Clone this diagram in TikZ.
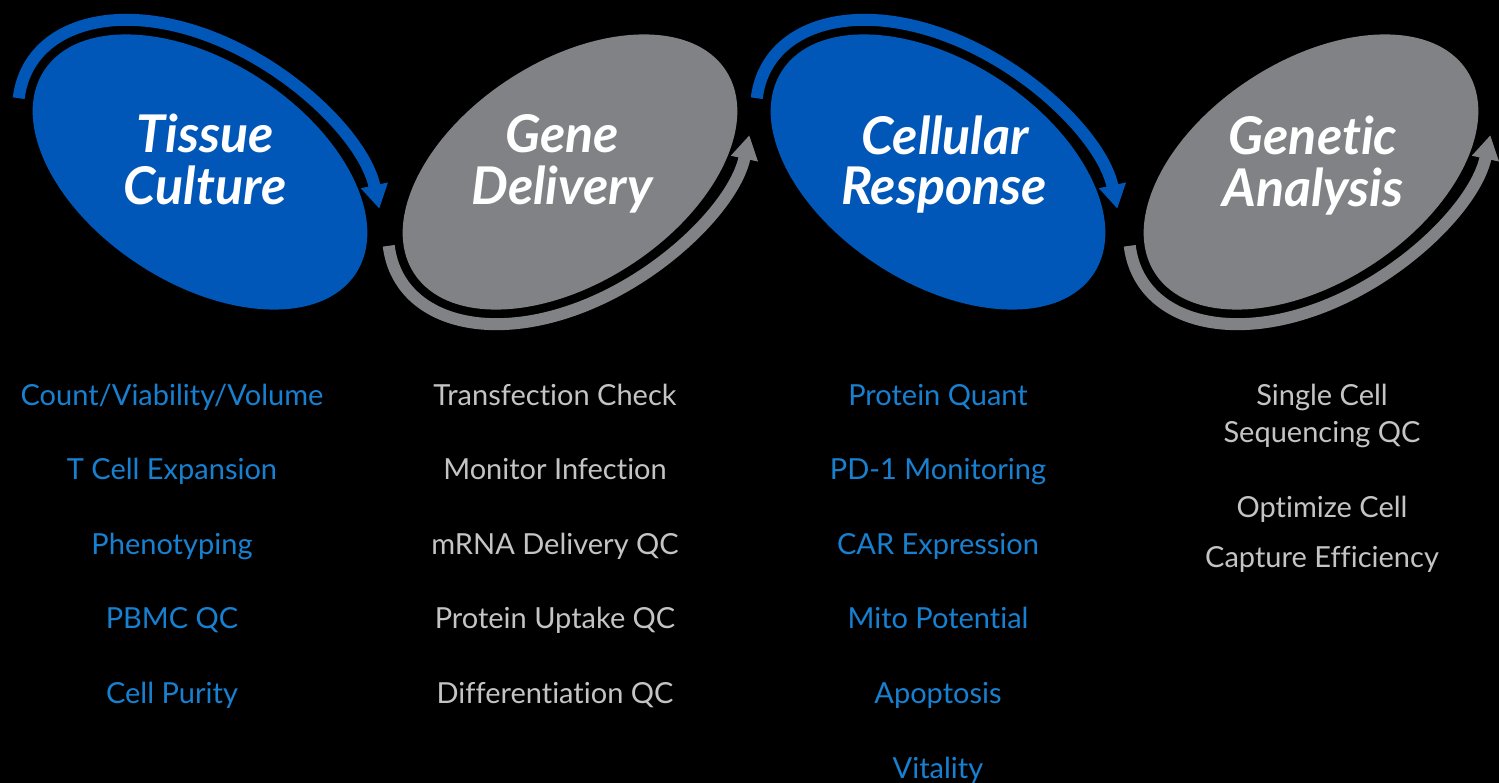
\documentclass[tikz,border=0pt]{standalone}
\usepackage{fontspec}
\setmainfont{Lato}[Ligatures={NoCommon}]
\usetikzlibrary{shapes.geometric,arrows.meta}
\definecolor{tblue}{RGB}{0,87,184}
\definecolor{tgray}{RGB}{128,130,133}
\definecolor{lblue}{RGB}{24,128,208}
\definecolor{lgray}{RGB}{196,196,196}
\tikzset{
  stage/.style={ellipse, inner sep=0pt, minimum width=372pt, minimum height=222pt},
  stagetitle/.style={text=white, anchor=base, inner sep=0pt, font=\fontsize{52}{52}\selectfont\bfseries\itshape},
  listitem/.style={anchor=base, inner sep=0pt, font=\fontsize{29}{29}\selectfont},
  ring/.style={line width=12pt, -{Triangle[width=26pt,length=24pt]}},
}
\begin{document}
\begin{tikzpicture}[x=1pt,y=1pt]
  \fill[black] (0,0) rectangle (1499,-783);
  \useasboundingbox (0,0) rectangle (1499,-783);
  % stages
  \node[stage, fill=tblue, rotate=-33] (tc) at (200,-172) {};
  \node[stage, fill=tgray, rotate=33] (gd) at (570,-172) {};
  \node[stage, fill=tblue, rotate=-33] (cr) at (938,-172) {};
  \node[stage, fill=tgray, rotate=33] (ga) at (1311,-172) {};
  % rings round the stages
  \draw[ring, tblue, shift={(tc.center)}, rotate=-33] (197:201pt and 126pt) arc[start angle=197, end angle=32, x radius=201pt, y radius=126pt];
  \draw[ring, tgray, shift={(gd.center)}, rotate=33] (163:201pt and 126pt) arc[start angle=163, end angle=328, x radius=201pt, y radius=126pt];
  \draw[ring, tblue, shift={(cr.center)}, rotate=-33] (197:201pt and 126pt) arc[start angle=197, end angle=32, x radius=201pt, y radius=126pt];
  \draw[ring, tgray, shift={(ga.center)}, rotate=33] (163:201pt and 126pt) arc[start angle=163, end angle=328, x radius=201pt, y radius=126pt];
  % titles
  \node[stagetitle] (tc1) at (205,-153) {Tissue};
  \node[stagetitle] (tc2) at (205,-205) {Culture};
  \node[stagetitle] (gd1) at (562,-153) {Gene};
  \node[stagetitle] (gd2) at (562,-205) {Delivery};
  \node[stagetitle] (cr1) at (945,-155) {Cellular};
  \node[stagetitle] (cr2) at (944,-205) {Response};
  \node[stagetitle] (ga1) at (1313,-155) {Genetic};
  \node[stagetitle] (ga2) at (1313,-207) {Analysis};
  % tissue culture
  \node[listitem, lblue] (tc-a) at (172,-405) {Count/Viability/Volume};
  \node[listitem, lblue] (tc-b) at (172,-479.5) {T Cell Expansion};
  \node[listitem, lblue] (tc-c) at (172,-554) {Phenotyping};
  \node[listitem, lblue] (tc-d) at (172,-628.5) {PBMC QC};
  \node[listitem, lblue] (tc-e) at (172,-703) {Cell Purity};
  % gene delivery
  \node[listitem, lgray] (gd-a) at (555,-405) {Transfection Check};
  \node[listitem, lgray] (gd-b) at (555,-479.5) {Monitor Infection};
  \node[listitem, lgray] (gd-c) at (555,-554) {mRNA Delivery QC};
  \node[listitem, lgray] (gd-d) at (555,-628.5) {Protein Uptake QC};
  \node[listitem, lgray] (gd-e) at (555,-703) {Differentiation QC};
  % cellular response
  \node[listitem, lblue] (cr-a) at (938,-405) {Protein Quant};
  \node[listitem, lblue] (cr-b) at (938,-479.5) {PD-1 Monitoring};
  \node[listitem, lblue] (cr-c) at (938,-554) {CAR Expression};
  \node[listitem, lblue] (cr-d) at (938,-628.5) {Mito Potential};
  \node[listitem, lblue] (cr-e) at (938,-703) {Apoptosis};
  \node[listitem, lblue] (cr-f) at (938,-778) {Vitality};
  % genetic analysis
  \node[listitem, lgray] (ga-a) at (1322,-405) {Single Cell};
  \node[listitem, lgray] (ga-b) at (1322,-442) {Sequencing QC};
  \node[listitem, lgray] (ga-c) at (1322,-517) {Optimize Cell};
  \node[listitem, lgray] (ga-d) at (1322,-567) {Capture Efficiency};
\end{tikzpicture}
\end{document}
